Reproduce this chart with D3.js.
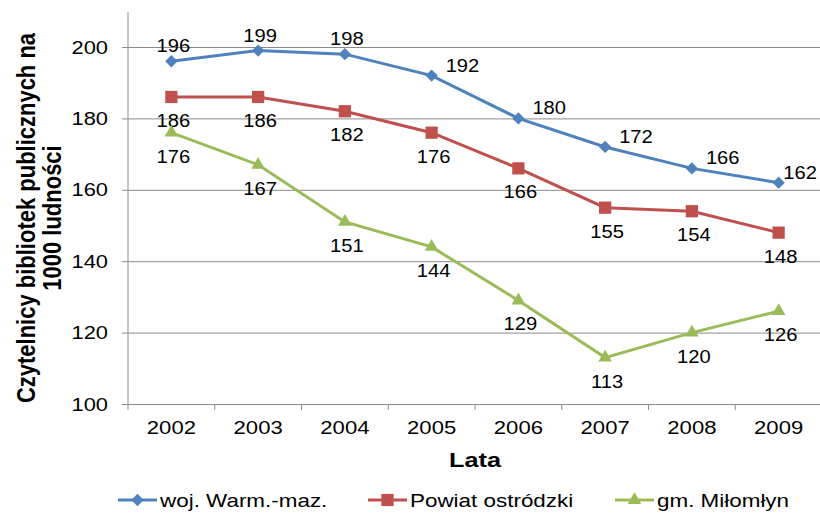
<!DOCTYPE html>
<html>
  <head>
    <meta charset="utf-8">
    <script src="https://d3js.org/d3.v7.min.js"></script>
    <style>
      body { margin: 0px; background: #fff; }
      text { font-family: "Liberation Sans", Arial, sans-serif; fill: #000; }
      .tick text { font-size: 19px; }
      .value-label { font-size: 18px; }
      .axis-label { font-size: 21px; font-weight: bold; }
      .y-title { font-size: 22px; font-weight: bold; }
      .legend text { font-size: 19px; }
    </style>
  </head>
  <body>
    <svg width="820" height="513"></svg>
    <script>
      const years = ['2002', '2003', '2004', '2005', '2006', '2007', '2008', '2009'];
      const seriesNames = ['woj. Warm.-maz.', 'Powiat ostródzki', 'gm. Miłomłyn'];
      const wojValues = [196, 199, 198, 192, 180, 172, 166, 162];
      const powiatValues = [186, 186, 182, 176, 166, 155, 154, 148];
      const gminaValues = [176, 167, 151, 144, 129, 113, 120, 126];
      const yTicks = [100, 120, 140, 160, 180, 200];

      const colors = ['#4F81BD', '#C0504D', '#9BBB59'];
      const shapes = ['diamond', 'square', 'triangle'];
      // where Excel put each label, per point
      const labelPos = [
        ['above', 'above', 'above', 'right', 'right', 'right', 'right', 'right'],
        Array(8).fill('below'),
        Array(8).fill('below')
      ];

      const series = [wojValues, powiatValues, gminaValues].map((values, i) => ({
        name: seriesNames[i],
        color: colors[i],
        shape: shapes[i],
        points: values.map((v, j) => ({ year: years[j], value: v, pos: labelPos[i][j] }))
      }));

      // the original picture is a bit stretched sideways, so text is too
      function stretch(sel, k) {
        sel.each(function () {
          const w = this.getComputedTextLength();
          this.setAttribute('textLength', w * k);
          this.setAttribute('lengthAdjust', 'spacingAndGlyphs');
        });
      }

      function marker(shape) {
        if (shape === 'diamond') return { d: d3.symbol().type(d3.symbolSquare).size(76)(), rot: 45 };
        if (shape === 'square') return { d: d3.symbol().type(d3.symbolSquare).size(150)(), rot: 0 };
        return { d: d3.symbol().type(d3.symbolTriangle).size(80)(), rot: 0 };
      }

      const svg = d3.select('svg');
      const plotLeft = 128, plotRight = 822, plotTop = 12;

      const xScale = d3.scaleBand().domain(years).range([plotLeft, plotRight]);
      const yScale = d3.scaleLinear().domain([100, 200]).range([404, 47]);
      const xCenter = d => xScale(d) + xScale.bandwidth() / 2;

      // gridlines + y axis
      const yAxisG = svg.append('g')
          .attr('transform', `translate(${plotLeft},0)`)
          .call(d3.axisLeft(yScale).tickValues(yTicks).tickSize(6).tickPadding(14));
      yAxisG.select('.domain').remove();
      yAxisG.selectAll('.tick line').attr('stroke', '#8a8a8a');
      yAxisG.selectAll('.tick').append('line')
          .attr('x2', plotRight - plotLeft)
          .attr('stroke', '#8a8a8a');
      stretch(yAxisG.selectAll('.tick text'), 1.15);

      svg.append('line')
          .attr('x1', plotLeft).attr('x2', plotLeft)
          .attr('y1', plotTop).attr('y2', yScale(100))
          .attr('stroke', '#8a8a8a');

      // x axis
      const xAxisG = svg.append('g')
          .attr('transform', `translate(0,${yScale(100)})`)
          .call(d3.axisBottom(xScale).tickSize(0).tickPadding(17));
      xAxisG.select('.domain').attr('stroke', '#8a8a8a');
      xAxisG.selectAll('.boundary').data(d3.range(years.length + 1))
        .enter().append('line')
          .attr('x1', i => plotLeft + i * xScale.bandwidth())
          .attr('x2', i => plotLeft + i * xScale.bandwidth())
          .attr('y1', 0).attr('y2', 6)
          .attr('stroke', '#8a8a8a');
      stretch(xAxisG.selectAll('.tick text'), 1.16);

      const xTitle = svg.append('text')
          .attr('class', 'axis-label')
          .attr('x', 475)
          .attr('y', 467)
          .attr('text-anchor', 'middle')
          .text('Lata');
      stretch(xTitle, 1.2);

      const yTitle = svg.append('text')
          .attr('class', 'y-title')
          .attr('transform', 'translate(0,218) scale(1.2,1) rotate(-90)')
          .attr('text-anchor', 'middle');
      yTitle.append('tspan').attr('x', 0).attr('y', 29).text('Czytelnicy bibliotek publicznych na');
      yTitle.append('tspan').attr('x', 0).attr('y', 51).text('1000 ludności');

      const line = d3.line()
          .x(d => xCenter(d.year))
          .y(d => yScale(d.value));

      const sG = svg.selectAll('.series').data(series)
        .enter().append('g').attr('class', 'series');

      sG.append('path')
          .attr('d', d => line(d.points))
          .attr('fill', 'none')
          .attr('stroke', d => d.color)
          .attr('stroke-width', 3);

      sG.each(function (s) {
        const g = d3.select(this);
        const m = marker(s.shape);
        g.selectAll('.marker').data(s.points)
          .enter().append('path')
            .attr('transform', d => `translate(${xCenter(d.year)},${yScale(d.value)}) rotate(${m.rot})`)
            .attr('d', m.d)
            .attr('fill', s.color);

        const labels = g.selectAll('.value-label').data(s.points)
          .enter().append('text')
            .attr('class', 'value-label')
            .attr('x', d => xCenter(d.year) + (d.pos === 'right' ? 14 : 2))
            .attr('y', d => yScale(d.value) + (d.pos === 'above' ? -9 : d.pos === 'below' ? 30 : -4))
            .attr('text-anchor', d => d.pos === 'right' ? 'start' : 'middle')
            .text(d => d.value);
        stretch(labels, 1.12);
        // keep right-hand labels inside the chart, like Excel does
        labels.filter(d => d.pos === 'right').each(function () {
          const w = +this.getAttribute('textLength');
          const x = +this.getAttribute('x');
          if (x + w > 817) this.setAttribute('x', 817 - w);
        });
      });

      // legend
      const legendX = [118, 368, 615];
      const legend = svg.append('g').attr('class', 'legend');
      const item = legend.selectAll('g').data(series)
        .enter().append('g')
          .attr('transform', (d, i) => `translate(${legendX[i]},500)`);
      item.append('line')
          .attr('x1', 0).attr('x2', 39)
          .attr('stroke', d => d.color)
          .attr('stroke-width', 3);
      item.append('path')
          .attr('transform', d => `translate(19.5,0) rotate(${marker(d.shape).rot})`)
          .attr('d', d => marker(d.shape).d)
          .attr('fill', d => d.color);
      const legendText = item.append('text')
          .attr('x', 42)
          .attr('y', 7)
          .text(d => d.name);
      stretch(legendText, 1.18);
    </script>
  </body>
</html>
